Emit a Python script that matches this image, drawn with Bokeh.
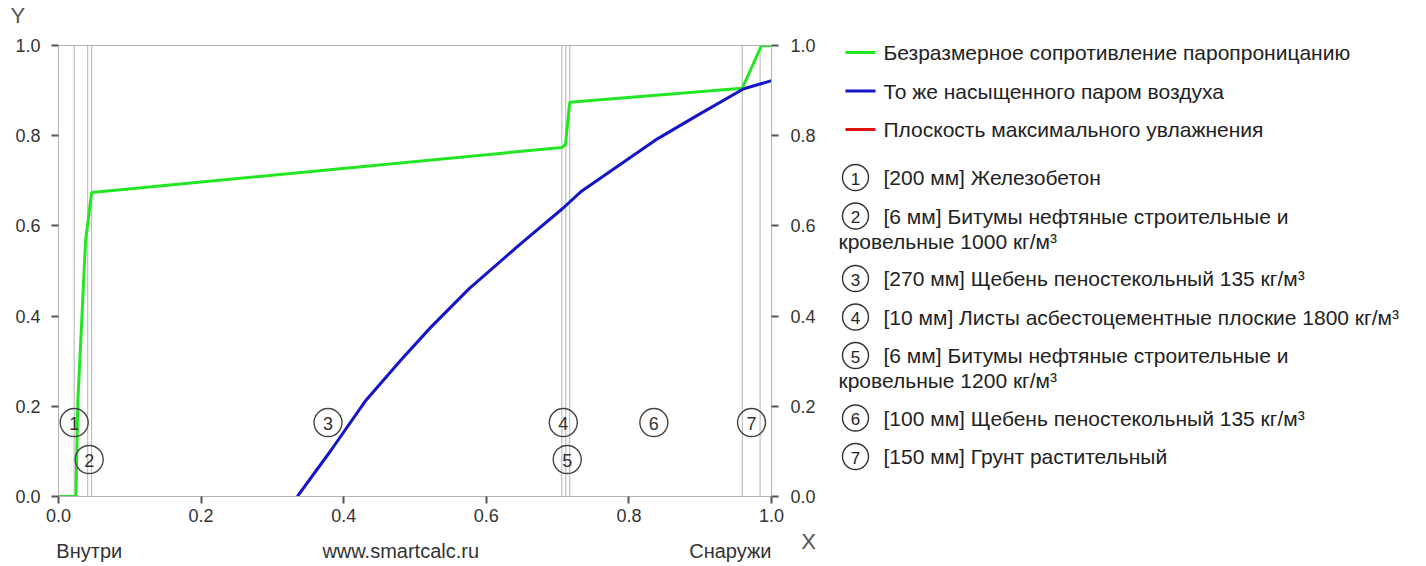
from bokeh.plotting import figure
from bokeh.layouts import row, column
from bokeh.models import Range1d, LinearAxis, FixedTicker, NumeralTickFormatter, ColumnDataSource
from bokeh.embed import file_html
from bokeh.resources import INLINE
from bokeh.core.properties import value

# ---------------- data ----------------
layer_bounds = [0.022, 0.041, 0.0465, 0.706, 0.7115, 0.717, 0.959, 0.984]

green_x = [0.0, 0.0245, 0.027, 0.038, 0.0465, 0.706, 0.711, 0.717, 0.959, 0.986, 1.0]
green_y = [0.0, 0.0, 0.206, 0.568, 0.674, 0.774, 0.780, 0.874, 0.905, 1.0, 1.0]

blue_x = [0.335, 0.382, 0.431, 0.480, 0.522, 0.576, 0.648, 0.7067, 0.732, 0.840, 0.896, 0.961, 1.0]
blue_y = [0.0, 0.102, 0.213, 0.302, 0.375, 0.461, 0.560, 0.638, 0.675, 0.793, 0.845, 0.904, 0.922]

marker_num = ["1", "2", "3", "4", "5", "6", "7"]
marker_x = [0.022, 0.043, 0.378, 0.708, 0.7135, 0.835, 0.972]
marker_y = [0.164, 0.082, 0.164, 0.164, 0.082, 0.164, 0.164]

ticks = [0.0, 0.2, 0.4, 0.6, 0.8, 1.0]

axis_y_label = "Y"
axis_x_label = "X"
bottom_texts = ["Внутри", "www.smartcalc.ru", "Снаружи"]

series_names = ["Безразмерное сопротивление паропроницанию",
                "То же насыщенного паром воздуха",
                "Плоскость максимального увлажнения"]
series_colors = ["#22e622", "#1414c8", "#e01010"]

layer_first = ["[200 мм] Железобетон",
               "[6 мм] Битумы нефтяные строительные и",
               "[270 мм] Щебень пеностекольный 135 кг/м³",
               "[10 мм] Листы асбестоцементные плоские 1800 кг/м³",
               "[6 мм] Битумы нефтяные строительные и",
               "[100 мм] Щебень пеностекольный 135 кг/м³",
               "[150 мм] Грунт растительный"]
layer_cont = ["", "кровельные 1000 кг/м³", "", "", "кровельные 1200 кг/м³", "", ""]

FONT = "Liberation Sans"
GRID = "#b4b4b4"

# geometry of the left block (pixels)
LEFT_W = 830
FR_L, FR_R = 58, 771
TOP_H, MAIN_H, BOT_H = 30, 500, 36


def no_align(fig):
    if hasattr(fig, "frame_align"):
        fig.frame_align = False


def strip(height):
    # x data coordinates identical to the main chart's (0 -> FR_L px, 1 -> FR_R px)
    span = FR_R - FR_L
    f = figure(width=LEFT_W, height=height, output_backend="svg", toolbar_location=None,
               x_range=Range1d(-FR_L / span, (LEFT_W - FR_L) / span), y_range=Range1d(0, 1),
               min_border=0, x_axis_location=None, y_axis_location=None)
    f.grid.visible = False
    f.outline_line_color = None
    f.border_fill_color = "white"
    no_align(f)
    return f


# ---------------- main chart ----------------
p = figure(width=LEFT_W, height=MAIN_H, output_backend="svg", toolbar_location=None,
           x_range=Range1d(0, 1), y_range=Range1d(0, 1),
           min_border_left=FR_L, min_border_right=LEFT_W - FR_R, min_border_top=15, min_border_bottom=34,
           y_axis_location=None, x_axis_location=None)
p.grid.visible = False
p.outline_line_color = GRID
p.outline_line_width = 1
p.background_fill_color = "white"
p.border_fill_color = "white"
no_align(p)


def style_axis(ax):
    ax.ticker = FixedTicker(ticks=ticks)
    ax.formatter = NumeralTickFormatter(format="0.0")
    ax.axis_line_color = GRID
    ax.major_tick_line_color = "#555555"
    ax.major_tick_line_width = 2
    ax.major_tick_out = 7
    ax.major_tick_in = 0
    ax.minor_tick_line_color = None
    ax.major_label_text_font = FONT
    ax.major_label_text_font_size = "18px"
    ax.major_label_text_color = "#333333"


left = LinearAxis()
style_axis(left)
left.major_label_standoff = 11
p.add_layout(left, "left")
right = LinearAxis()
style_axis(right)
right.major_label_standoff = 12
p.add_layout(right, "right")
bottom = LinearAxis()
style_axis(bottom)
bottom.major_label_standoff = 5
p.add_layout(bottom, "below")

# layer boundary lines
p.segment(x0=layer_bounds, x1=layer_bounds, y0=[0] * len(layer_bounds), y1=[1] * len(layer_bounds),
          line_color=GRID, line_width=1)

p.line(green_x, green_y, line_color=series_colors[0], line_width=3)
p.line(blue_x, blue_y, line_color=series_colors[1], line_width=3)

msrc = ColumnDataSource(dict(x=marker_x, y=marker_y, t=marker_num))
p.scatter("x", "y", source=msrc, marker="circle", size=28, fill_color=None,
          line_color="#444444", line_width=1.4)
p.text("x", "y", text="t", source=msrc, text_align="center", text_baseline="middle",
       text_font=value(FONT), text_font_size="18px", text_color="#333333", y_offset=1)

# top strip with "Y"
top = strip(TOP_H)
top.text([-0.057], [0.5], text=[axis_y_label], text_align="center", text_baseline="middle",
         text_font=value(FONT), text_font_size="22px", text_color="#555555")

# bottom strip with captions and "X"
bot = strip(BOT_H)
bot.text([-0.003, 0.48, 1.0], [0.42] * 3, text=bottom_texts, text_align=["left", "center", "right"],
         text_baseline="middle", text_font=value(FONT), text_font_size="20px", text_color="#333333")
bot.text([1.052], [0.70], text=[axis_x_label], text_align="center", text_baseline="middle",
         text_font=value(FONT), text_font_size="22px", text_color="#555555")

# ---------------- legend panel ----------------
lg = figure(width=596, height=566, output_backend="svg", toolbar_location=None,
            x_range=Range1d(830, 1426), y_range=Range1d(566, 0),
            min_border=0, x_axis_location=None, y_axis_location=None)
lg.grid.visible = False
lg.outline_line_color = None
lg.border_fill_color = "white"
no_align(lg)

sy = [52 + 38.5 * i for i in range(len(series_names))]
lg.segment(x0=[845] * 3, x1=[875] * 3, y0=sy, y1=sy, line_color=series_colors, line_width=3)
lg.text([883] * 3, sy, text=series_names, text_baseline="middle", text_align="left",
        text_font=value(FONT), text_font_size="21px", text_color="#222222")

ly = []
cy = []
cont_txt = []
extra = 0
for i in range(len(layer_first)):
    y = 177 + 38.5 * i + 24 * extra
    ly.append(y)
    if layer_cont[i]:
        cy.append(y + 25)
        cont_txt.append(layer_cont[i])
        extra += 1

lg.scatter([855] * len(ly), ly, marker="circle", size=26, fill_color=None,
           line_color="#333333", line_width=1.4)
lg.text([855] * len(ly), [y + 1 for y in ly], text=marker_num, text_align="center",
        text_baseline="middle", text_font=value(FONT), text_font_size="17px", text_color="#222222")
lg.text([883] * len(ly), ly, text=layer_first, text_baseline="middle", text_align="left",
        text_font=value(FONT), text_font_size="21px", text_color="#222222")
lg.text([838] * len(cy), cy, text=cont_txt, text_baseline="middle", text_align="left",
        text_font=value(FONT), text_font_size="21px", text_color="#222222")

layout = row(column(top, p, bot, spacing=0), lg, spacing=0)
open("out.html", "w").write(file_html(layout, INLINE))
